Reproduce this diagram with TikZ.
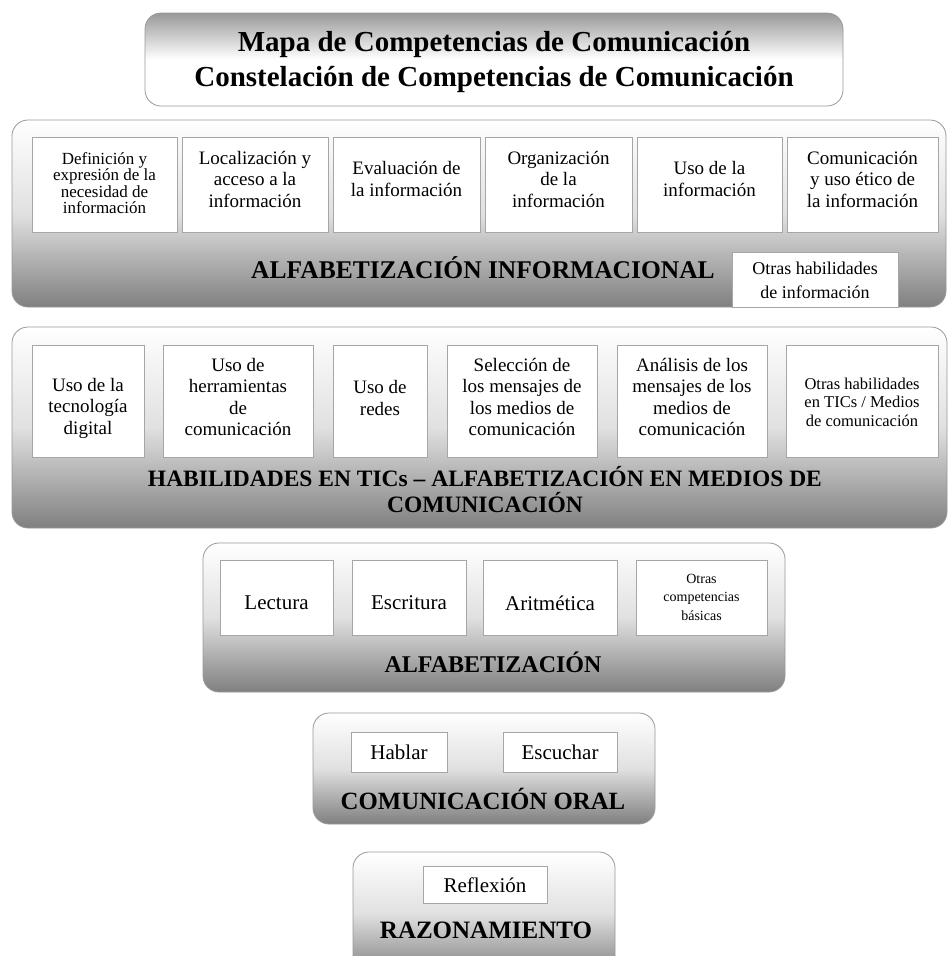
\documentclass[tikz,border=0pt]{standalone}
\usepackage{fontspec}
\setmainfont{Liberation Serif}
\tikzset{
  panel/.style={draw=black!40, line width=0.8pt, rounded corners=16pt, top color=white, bottom color=black!50, middle color=black!12},
  cell/.style={draw=black!35, line width=0.8pt, fill=white},
  txt/.style={align=center, inner sep=0pt, font=\fontsize{19}{21.5}\selectfont},
  heading/.style={align=center, inner sep=0pt, font=\fontsize{23.5}{26}\selectfont\bfseries}
}
\begin{document}
\begin{tikzpicture}[x=1pt,y=-1pt]
  \clip (0,0) rectangle (948,956);
  \fill[white] (0,0) rectangle (948,956);
  % title
  \draw[panel, top color=black!40, bottom color=white, middle color=white] (145,13) rectangle (843,106);
  \node[heading, font=\fontsize{29}{35}\selectfont\bfseries] (title) at (494,62) {Mapa de Competencias de Comunicación\\Constelación de Competencias de Comunicación};
  % alfabetizacion informacional
  \draw[panel] (12,120) rectangle (946,307);
  \draw[cell] (32,137) rectangle (177,232);
  \node[txt, font=\fontsize{17}{16.5}\selectfont] (defin) at (104.5,183) {Definición y\\expresión de la\\necesidad de\\información};
  \draw[cell] (182,137) rectangle (328,232);
  \node[txt] (local) at (255,179) {Localización y\\acceso a la\\información};
  \draw[cell] (333,137) rectangle (480,232);
  \node[txt] (evalu) at (406.5,179) {Evaluación de\\la información};
  \draw[cell] (485,137) rectangle (632,232);
  \node[txt] (organ) at (558.5,179) {Organización\\de la\\información};
  \draw[cell] (637,137) rectangle (782,232);
  \node[txt] (usoinf) at (709.5,179) {Uso de la\\información};
  \draw[cell] (787,137) rectangle (938,232);
  \node[txt] (comun) at (862.5,179) {Comunicación\\y uso ético de\\la información};
  \node[heading, font=\fontsize{25.5}{28}\selectfont\bfseries] (ainf) at (483,268) {ALFABETIZACIÓN INFORMACIONAL};
  \draw[cell] (732,252) rectangle (898,307);
  \node[txt, font=\fontsize{18}{24}\selectfont] (otrinf) at (815,280) {Otras habilidades\\de información};
  % habilidades en TICs
  \draw[panel] (12,327) rectangle (947,528);
  \draw[cell] (32,345) rectangle (144,457);
  \node[txt] (tecno) at (88,408) {Uso de la\\tecnología\\digital};
  \draw[cell] (163,345) rectangle (313,457);
  \node[txt] (herra) at (238,397) {Uso de\\herramientas\\de\\comunicación};
  \draw[cell] (333,345) rectangle (427,457);
  \node[txt] (redes) at (380,398) {Uso de\\redes};
  \draw[cell] (447,345) rectangle (597,457);
  \node[txt] (selec) at (522,397) {Selección de\\los mensajes de\\los medios de\\comunicación};
  \draw[cell] (617,345) rectangle (767,457);
  \node[txt] (anali) at (692,397) {Análisis de los\\mensajes de los\\medios de\\comunicación};
  \draw[cell] (786,345) rectangle (938,457);
  \node[txt, font=\fontsize{16.5}{18.5}\selectfont] (otrtic) at (862,402) {Otras habilidades\\en TICs / Medios\\de comunicación};
  \node[heading] (htic) at (485,490) {HABILIDADES EN TICs – ALFABETIZACIÓN EN MEDIOS DE\\COMUNICACIÓN};
  % alfabetizacion
  \draw[panel] (203,543) rectangle (785,692);
  \draw[cell] (220,560) rectangle (333,635);
  \node[txt, font=\fontsize{21}{24}\selectfont] (lect) at (276.5,603) {Lectura};
  \draw[cell] (352,560) rectangle (466,635);
  \node[txt, font=\fontsize{21}{24}\selectfont] (escr) at (409,603) {Escritura};
  \draw[cell] (483,560) rectangle (617,635);
  \node[txt, font=\fontsize{21}{24}\selectfont] (arit) at (550,603) {Aritmética};
  \draw[cell] (636,560) rectangle (767,635);
  \node[txt, font=\fontsize{14}{18.5}\selectfont] (otrcomp) at (701.5,597) {Otras\\competencias\\básicas};
  \node[heading, font=\fontsize{24}{27}\selectfont\bfseries] (alfab) at (493,662) {ALFABETIZACIÓN};
  % comunicacion oral
  \draw[panel] (313,713) rectangle (655,824);
  \draw[cell] (351,732) rectangle (447,772);
  \node[txt, font=\fontsize{21}{24}\selectfont] (habl) at (399,752) {Hablar};
  \draw[cell] (503,732) rectangle (617,772);
  \node[txt, font=\fontsize{21}{24}\selectfont] (escu) at (560,752) {Escuchar};
  \node[heading, font=\fontsize{24.8}{27}\selectfont\bfseries] (oral) at (483,799) {COMUNICACIÓN ORAL};
  % razonamiento
  \draw[panel] (353,852) rectangle (615,975);
  \draw[cell] (423,866) rectangle (547,903);
  \node[txt, font=\fontsize{21}{24}\selectfont] (refl) at (485,885) {Reflexión};
  \node[heading, font=\fontsize{25}{27}\selectfont\bfseries] (razon) at (486,930) {RAZONAMIENTO};
\end{tikzpicture}
\end{document}
